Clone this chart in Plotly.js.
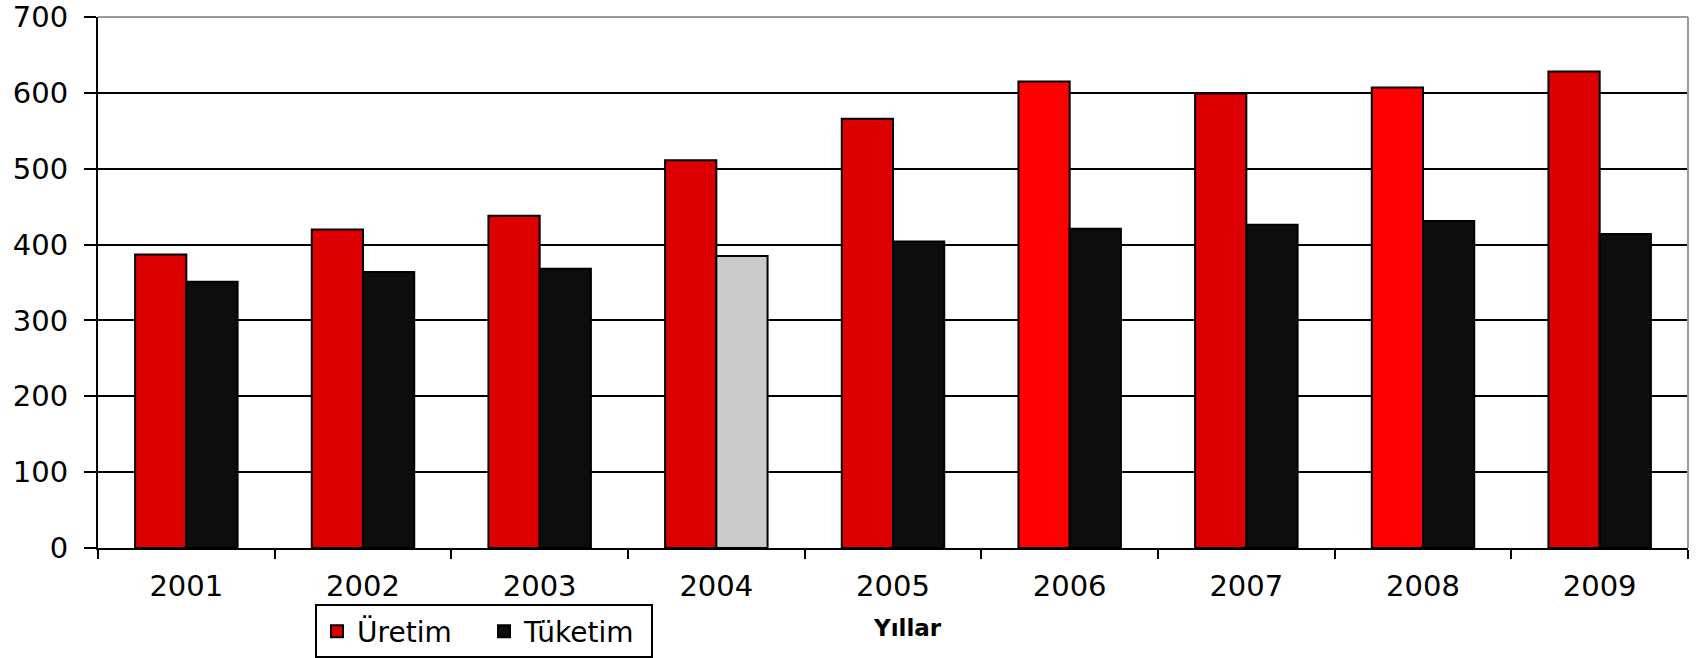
<!DOCTYPE html>
<html>
<head>
<meta charset="utf-8">
<script src="https://cdn.plot.ly/plotly-3.0.1.min.js"></script>
<style>
html, body { margin: 0; padding: 0; background: #ffffff; }
#chart { width: 1697px; height: 658px; }
</style>
</head>
<body>
<div id="chart"></div>
<script>
// Data
const years = ['2001', '2002', '2003', '2004', '2005', '2006', '2007', '2008', '2009'];
const uretim = [387, 420, 438, 511, 566, 615, 599, 607, 628];
const tuketim = [351, 364, 368, 385, 404, 421, 426, 431, 414];
const uretimColors = ['#dc0000', '#dc0000', '#dc0000', '#dc0000', '#dc0000', '#ff0000', '#dc0000', '#ff0000', '#dc0000'];
const tuketimColors = ['#0d0d0d', '#0d0d0d', '#0d0d0d', '#cbcbcb', '#0d0d0d', '#0d0d0d', '#0d0d0d', '#0d0d0d', '#0d0d0d'];
const seriesNames = ['Üretim', 'Tüketim'];
const xTitle = 'Yıllar';
const yTicks = [0, 100, 200, 300, 400, 500, 600, 700];

const FONT = 'DejaVu Sans, Liberation Sans, Arial, sans-serif';

const traces = [
  {
    type: 'bar',
    name: seriesNames[0],
    x: years,
    y: uretim,
    marker: { color: uretimColors, line: { color: '#000000', width: 2 } },
    hoverinfo: 'x+y+name'
  },
  {
    type: 'bar',
    name: seriesNames[1],
    x: years,
    y: tuketim,
    marker: { color: tuketimColors, line: { color: '#000000', width: 2 } },
    hoverinfo: 'x+y+name'
  }
];

const layout = {
  width: 1697,
  height: 658,
  paper_bgcolor: '#ffffff',
  plot_bgcolor: '#ffffff',
  font: { family: FONT, color: '#000000', size: 29 },
  margin: { l: 98, r: 9, t: 17, b: 110, autoexpand: false },
  barmode: 'group',
  bargap: 0.42,
  bargroupgap: 0,
  showlegend: true,
  legend: {
    orientation: 'h',
    x: 0.1365,
    xanchor: 'left',
    y: -0.1063,
    yanchor: 'top',
    bgcolor: '#ffffff',
    bordercolor: '#000000',
    borderwidth: 2,
    font: { family: FONT, size: 28, color: '#000000' },
    itemwidth: 30,
    entrywidth: 122,
    entrywidthmode: 'pixels',
    traceorder: 'normal'
  },
  xaxis: {
    type: 'category',
    tickson: 'boundaries',
    ticks: 'outside',
    ticklen: 9,
    tickwidth: 2,
    tickcolor: '#000000',
    showline: true,
    linecolor: '#000000',
    linewidth: 2,
    showgrid: false,
    zeroline: false,
    tickfont: { family: FONT, size: 29, color: '#000000' },
    ticklabelstandoff: 11,
    automargin: false
  },
  yaxis: {
    range: [0, 700],
    tickvals: yTicks,
    ticktext: yTicks.map(String),
    ticks: 'outside',
    ticklen: 12,
    tickwidth: 2,
    tickcolor: '#000000',
    showline: true,
    linecolor: '#000000',
    linewidth: 2,
    showgrid: true,
    gridcolor: '#000000',
    gridwidth: 1.6,
    zeroline: false,
    tickfont: { family: FONT, size: 29, color: '#000000' },
    ticklabelstandoff: 10,
    automargin: false
  },
  annotations: [
    {
      text: xTitle,
      xref: 'paper', yref: 'paper',
      x: 0.5094, y: -0.1515,
      xanchor: 'center', yanchor: 'middle',
      showarrow: false,
      font: { family: FONT, size: 23, color: '#000000', weight: 'bold' }
    }
  ],
  shapes: [
    { type: 'line', xref: 'paper', yref: 'paper', x0: 0, x1: 1, y0: 1, y1: 1,
      line: { color: '#9a9a9a', width: 2 }, layer: 'above' },
    { type: 'line', xref: 'paper', yref: 'paper', x0: 1, x1: 1, y0: 0, y1: 1,
      line: { color: '#9a9a9a', width: 2 }, layer: 'above' }
  ]
};

Plotly.newPlot('chart', traces, layout, { displayModeBar: false, responsive: false });
</script>
</body>
</html>
